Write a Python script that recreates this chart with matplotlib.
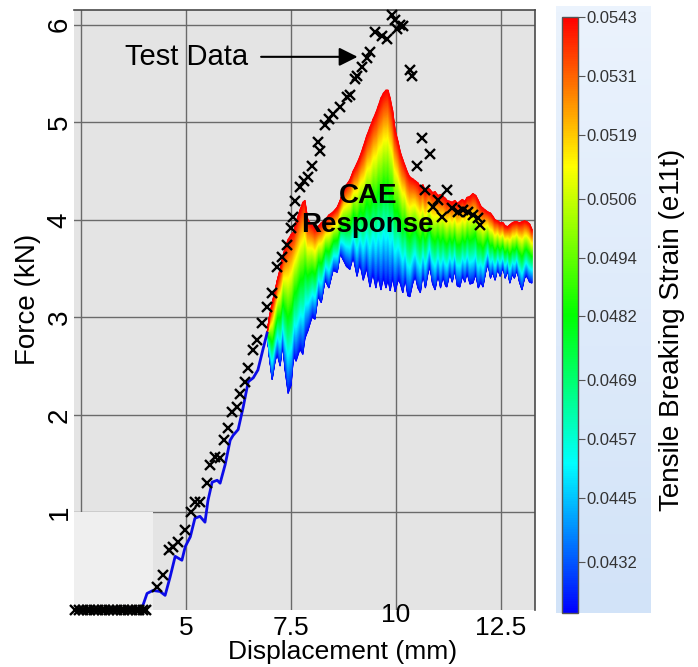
import numpy as np
import matplotlib
matplotlib.use("Agg")
import matplotlib.pyplot as plt
from matplotlib.colors import LinearSegmentedColormap, Normalize
from matplotlib.cm import ScalarMappable
from matplotlib.patches import Rectangle

plt.rcParams['font.family'] = ['Liberation Sans', 'DejaVu Sans']

# measured force-displacement points
test_x = [2.36, 2.45, 2.54, 2.63, 2.72, 2.81, 2.90, 2.99, 3.08, 3.17, 3.26, 3.35,
          3.44, 3.53, 3.62, 3.71, 3.80, 3.89, 3.98, 4.05,
          4.31, 4.45, 4.60, 4.69, 4.81, 4.98, 5.12, 5.21, 5.33, 5.50, 5.57, 5.69,
          5.81, 5.90, 6.00, 6.10, 6.21, 6.29, 6.40, 6.48, 6.60, 6.69, 6.81, 6.93,
          7.05, 7.17, 7.29, 7.40, 7.50, 7.55, 7.60, 7.71, 7.81, 7.90, 8.00, 8.19,
          8.14, 8.30, 8.40, 8.50, 8.67, 8.83, 8.90, 9.02, 9.07, 9.19, 9.31, 9.38,
          9.50, 9.67, 9.79, 9.90, 9.98, 10.02, 10.10, 10.17, 10.33, 10.38, 10.62,
          10.81, 10.50, 10.69, 11.21, 11.00, 10.88, 11.10, 11.33, 11.48, 11.60,
          11.71, 11.83, 11.95, 12.00]
test_y = [0.0] * 20 + [
          0.24, 0.36, 0.62, 0.65, 0.70, 0.82, 1.00, 1.11, 1.11, 1.30, 1.49, 1.57,
          1.56, 1.74, 1.87, 2.03, 2.08, 2.21, 2.34, 2.48, 2.67, 2.77, 2.94, 3.11,
          3.25, 3.52, 3.62, 3.74, 3.92, 4.03, 4.19, 4.34, 4.40, 4.44, 4.55, 4.70,
          4.80, 4.97, 5.03, 5.08, 5.16, 5.26, 5.28, 5.44, 5.47, 5.57, 5.66, 5.72,
          5.92, 5.88, 5.85, 6.10, 6.05, 5.96, 6.00, 5.99, 5.54, 5.47, 4.84,
          4.67, 4.55, 4.31, 4.31, 4.20, 4.13, 4.03, 4.12, 4.08, 4.10,
          4.08, 4.05, 4.02, 3.95]

# simulated response before the curves separate
base_x = [2.35, 3.95, 4.07, 4.21, 4.38, 4.50, 4.62, 4.74, 4.90, 4.98, 5.10, 5.21,
          5.33, 5.45, 5.52, 5.62, 5.74, 5.81, 5.93, 6.05, 6.12, 6.24, 6.36, 6.48,
          6.60, 6.71, 6.83, 6.93]
base_y = [0.0, 0.02, 0.17, 0.20, 0.19, 0.15, 0.34, 0.55, 0.51, 0.65, 0.75, 0.94,
          0.96, 0.90, 1.12, 1.31, 1.33, 1.30, 1.49, 1.74, 1.79, 1.85, 2.08, 2.34,
          2.38, 2.46, 2.67, 2.84]

# envelope of the response family (lowest / highest breaking strain)
band_x = [6.93, 6.98, 7.05, 7.12, 7.17, 7.24, 7.30, 7.36, 7.43, 7.50, 7.56, 7.62,
          7.71, 7.78, 7.83, 7.90, 8.00, 8.07, 8.14, 8.22, 8.31, 8.40, 8.50, 8.60,
          8.67, 8.74, 8.82, 8.90, 8.98, 9.07, 9.14, 9.22, 9.30, 9.38, 9.45, 9.52,
          9.57, 9.64, 9.70, 9.76, 9.81, 9.86, 9.92, 9.98, 10.05, 10.10, 10.16,
          10.22, 10.28, 10.33, 10.40, 10.46, 10.52, 10.58, 10.64, 10.70, 10.76,
          10.81, 10.87, 10.93, 11.00, 11.06, 11.12, 11.18, 11.21, 11.28, 11.34,
          11.40, 11.46, 11.52, 11.58, 11.64, 11.69, 11.76, 11.83, 11.90, 11.96,
          12.02, 12.07, 12.13, 12.19, 12.25, 12.30, 12.36, 12.42, 12.48, 12.55,
          12.60, 12.66, 12.71, 12.77, 12.82, 12.88, 12.94, 13.00, 13.06, 13.12,
          13.18, 13.24]
band_low = [2.84, 2.60, 2.36, 2.55, 2.62, 2.50, 2.72, 2.45, 2.22, 2.30, 2.60, 2.55,
            2.67, 2.62, 2.78, 2.86, 3.00, 2.98, 3.21, 3.15, 3.38, 3.30, 3.48, 3.46,
            3.65, 3.59, 3.52, 3.49, 3.62, 3.42, 3.55, 3.38, 3.50, 3.31, 3.45, 3.30,
            3.42, 3.28, 3.40, 3.30, 3.38, 3.27, 3.40, 3.26, 3.38, 3.35, 3.25,
            3.40, 3.22, 3.21, 3.35, 3.42, 3.30, 3.25, 3.45, 3.30, 3.45,
            3.52, 3.34, 3.28, 3.44, 3.30, 3.42, 3.32, 3.31, 3.45, 3.36,
            3.49, 3.32, 3.31, 3.42, 3.36, 3.46, 3.34, 3.35, 3.44, 3.30,
            3.36, 3.31, 3.45, 3.56, 3.40, 3.46, 3.38, 3.50, 3.42, 3.52,
            3.40, 3.48, 3.35, 3.44, 3.40, 3.49, 3.36, 3.28, 3.40, 3.42,
            3.36, 3.35]
band_high = [2.84, 3.00, 3.15, 3.28, 3.38, 3.50, 3.62, 3.72, 3.80, 3.85, 3.88, 3.98,
             4.10, 4.18, 4.20, 4.00, 3.95, 3.92, 3.93, 3.97, 4.00, 4.05, 4.08, 4.13,
             4.20, 4.30, 4.36, 4.41, 4.50, 4.58, 4.65, 4.75, 4.86, 4.95, 5.03, 5.10,
             5.16, 5.25, 5.30, 5.33, 5.33, 5.25, 5.12, 4.92, 4.80, 4.70, 4.62,
             4.55, 4.48, 4.44, 4.42, 4.40, 4.38, 4.34, 4.36, 4.30, 4.33,
             4.31, 4.28, 4.29, 4.25, 4.26, 4.24, 4.22, 4.20, 4.19, 4.18,
             4.20, 4.17, 4.19, 4.21, 4.19, 4.23, 4.24, 4.27, 4.25, 4.20,
             4.14, 4.12, 4.10, 4.08, 4.07, 4.04, 4.00, 3.99, 3.97, 3.97,
             3.94, 3.93, 3.95, 3.97, 3.98, 3.98, 3.97, 3.98, 3.99, 3.98,
             3.96, 3.90]

strain_min, strain_max = 0.04216, 0.0543
strain_ticks = [0.0543, 0.0531, 0.0519, 0.0506, 0.0494, 0.0482, 0.0469, 0.0457,
                0.0445, 0.0432]
x_ticks = [2.5, 5, 7.5, 10, 12.5]
x_labels = ['', '5', '7.5', '10', '12.5']
y_ticks = [1, 2, 3, 4, 5, 6]

cmap = LinearSegmentedColormap.from_list(
    'strain', [(0, '#0000ff'), (0.25, '#00ffff'), (0.5, '#00ff00'),
               (0.75, '#ffff00'), (1, '#ff0000')])
norm = Normalize(strain_min, strain_max)

fig = plt.figure(figsize=(6.98, 6.67), dpi=100)
ax = fig.add_axes([74 / 698, 57 / 667, 461 / 698, 600 / 667])
ax.set_facecolor('#e4e4e4')
ax.set_xlim(2.33, 13.31)
ax.set_ylim(0, 6.15)

ax.set_axisbelow(True)
ax.grid(True, color='#6a6a6a', lw=1.0)
for side in ['left', 'bottom']:
    ax.spines[side].set_visible(False)
for side in ['top', 'right']:
    ax.spines[side].set_color('#4a4a4a')
    ax.spines[side].set_linewidth(1.2)

ax.add_patch(Rectangle((0, 0), 0.171, 0.163, transform=ax.transAxes,
                       facecolor='#efefef', edgecolor='none', zorder=0.8))

# colour band: one row per strain level between the two envelopes
bx = np.array(band_x)
lo = np.array(band_low)
hi = np.array(band_high)
frac = np.linspace(0, 1, 81)[:, None]
X = np.tile(bx, (len(frac), 1))
Y = lo + (hi - lo) * frac
C = strain_min + frac * (strain_max - strain_min) * np.ones_like(bx)
ax.pcolormesh(X, Y, C, cmap=cmap, norm=norm, shading='gouraud', zorder=2)

ax.plot(base_x, base_y, color='#0c0ce8', lw=2.0, zorder=3)
ax.plot(test_x, test_y, 'x', color='black', ms=7.5, mew=1.7, zorder=4, clip_on=False)

ax.text(6.48, 5.67, 'Test Data', fontsize=21, ha='right', va='center', zorder=5)
ax.annotate('', xy=(9.15, 5.67), xytext=(6.72, 5.67),
            arrowprops=dict(arrowstyle='-|>', color='black', lw=1.5,
                            mutation_scale=28), zorder=5)
ax.text(9.33, 4.09, 'CAE\nResponse', fontsize=20, fontweight='bold',
        ha='center', va='center', linespacing=1.15, zorder=5)

ax.set_xticks(x_ticks)
ax.set_xticklabels(x_labels)
ax.set_yticks(y_ticks)
ax.set_yticklabels([str(v) for v in y_ticks])
ax.tick_params(axis='both', length=0)
ax.tick_params(axis='x', pad=4, labelsize=19)
ax.tick_params(axis='y', pad=1, labelrotation=90, labelsize=20)
for lab in ax.get_yticklabels():
    lab.set_va('center')
ax.xaxis.get_major_ticks()[3].set_pad(-5)

ax.set_xlabel('Displacement (mm)', fontsize=19)
ax.xaxis.set_label_coords(0.583, -0.05)
ax.set_ylabel('Force (kN)', fontsize=20)
ax.yaxis.set_label_coords(-0.072, 0.517)

# colour bar on a pale blue panel
panel = fig.add_axes([556 / 698, 54 / 667, 95 / 698, 607 / 667])
panel.imshow(np.linspace(0, 1, 100)[:, None], aspect='auto',
             cmap=LinearSegmentedColormap.from_list('panel', ['#ebf3fd', '#d2e3f8']))
panel.axis('off')

cax = fig.add_axes([562 / 698, 54 / 667, 16 / 698, 596 / 667])
cb = fig.colorbar(ScalarMappable(norm=norm, cmap=cmap), cax=cax)
cb.set_ticks(strain_ticks)
cb.set_ticklabels(['%.4f' % v for v in strain_ticks])
cb.outline.set_edgecolor('#555555')
cb.outline.set_linewidth(1.0)
cax.tick_params(length=5, width=0.8, color='#555555', labelsize=12,
                labelcolor='#333333', pad=1)

fig.text(672 / 698, 1 - 330 / 667, 'Tensile Breaking Strain (e11t)', fontsize=20,
         rotation=90, ha='center', va='center')

fig.savefig('out.png', dpi=100)
